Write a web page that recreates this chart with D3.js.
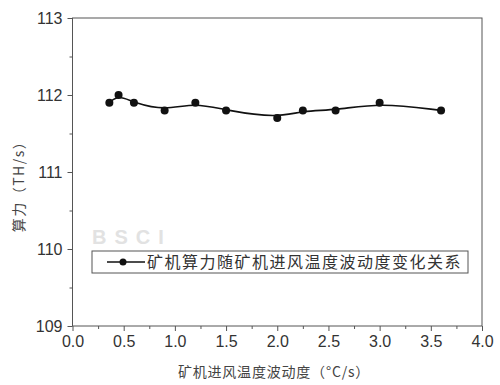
<!DOCTYPE html>
<html>
<head>
<meta charset="utf-8">
<script src="https://cdn.jsdelivr.net/npm/d3@7"></script>
<style>
  body { margin: 0; background: #fff; }
  text { font-family: "Liberation Sans", Arial, sans-serif; }
  .cjk { font-family: "Noto Sans CJK SC", sans-serif; }
</style>
</head>
<body>
<svg id="chart" width="500" height="385"></svg>
<script>
// data
const fluctuation = [0.36, 0.45, 0.6, 0.9, 1.2, 1.5, 2.0, 2.25, 2.57, 3.0, 3.6];
const hashrate = [111.9, 112.0, 111.9, 111.8, 111.9, 111.8, 111.7, 111.8, 111.8, 111.9, 111.8];
const xTicks = [0, 0.5, 1, 1.5, 2, 2.5, 3, 3.5, 4];
const yTicks = [109, 110, 111, 112, 113];
const seriesName = '矿机算力随矿机进风温度波动度变化关系';

const svg = d3.select('#chart');
const margin = {left: 72.5, right: 18, top: 18, bottom: 59};
const width = 500 - margin.left - margin.right;
const height = 385 - margin.top - margin.bottom;
const axisColor = '#555';

const x = d3.scaleLinear().domain([0, 4]).range([margin.left, margin.left + width]);
const y = d3.scaleLinear().domain([109, 113]).range([margin.top + height, margin.top]);

// frame
svg.append('rect')
    .attr('x', x(0)).attr('y', y(113))
    .attr('width', x(4) - x(0)).attr('height', y(109) - y(113))
    .attr('fill', 'none').attr('stroke', axisColor).attr('stroke-width', 1);

// minor ticks
svg.append('g')
    .attr('transform', `translate(0,${y(109)})`)
    .call(d3.axisBottom(x).tickValues(d3.range(0.25, 4, 0.5)).tickSize(3).tickFormat(''))
    .call(g => g.select('.domain').remove())
    .call(g => g.selectAll('line').attr('stroke', axisColor));
svg.append('g')
    .attr('transform', `translate(${x(0)},0)`)
    .call(d3.axisLeft(y).tickValues(d3.range(109.5, 113, 1)).tickSize(3).tickFormat(''))
    .call(g => g.select('.domain').remove())
    .call(g => g.selectAll('line').attr('stroke', axisColor));

// major ticks
const xAxis = svg.append('g')
    .attr('transform', `translate(0,${y(109)})`)
    .call(d3.axisBottom(x).tickValues(xTicks).tickSize(5).tickPadding(5).tickFormat(d3.format('.1f')));
const yAxis = svg.append('g')
    .attr('transform', `translate(${x(0)},0)`)
    .call(d3.axisLeft(y).tickValues(yTicks).tickSize(5).tickPadding(5).tickFormat(d3.format('d')));
[xAxis, yAxis].forEach(g => {
    g.select('.domain').remove();
    g.selectAll('line').attr('stroke', axisColor);
    g.selectAll('text').attr('fill', '#333').style('font-size', '16px')
        .style('font-family', '"Liberation Sans", Arial, sans-serif');
});

// watermark
svg.append('text')
    .attr('x', 92).attr('y', 244)
    .attr('fill', '#e2e2e2')
    .style('font-size', '20px')
    .style('font-weight', 'bold')
    .style('letter-spacing', '8px')
    .text('BSCI');

// curve
svg.append('path')
    .datum(fluctuation.map((v, i) => [v, hashrate[i]]))
    .attr('fill', 'none')
    .attr('stroke', '#111')
    .attr('stroke-width', 1.6)
    .attr('d', d3.line().x(d => x(d[0])).y(d => y(d[1])).curve(d3.curveBasis));

svg.append('g').selectAll('circle')
    .data(fluctuation)
    .enter().append('circle')
    .attr('cx', d => x(d))
    .attr('cy', (d, i) => y(hashrate[i]))
    .attr('r', 4)
    .attr('fill', '#111');

// legend
const legend = svg.append('g').attr('transform', 'translate(92,251)');
legend.append('rect')
    .attr('width', 376).attr('height', 22)
    .attr('fill', '#fff').attr('stroke', axisColor);
legend.append('line')
    .attr('x1', 15).attr('x2', 53).attr('y1', 11).attr('y2', 11)
    .attr('stroke', '#111').attr('stroke-width', 1.6);
legend.append('circle').attr('cx', 31).attr('cy', 11).attr('r', 3.5).attr('fill', '#111');
legend.append('text')
    .attr('class', 'cjk')
    .attr('x', 55).attr('y', 17)
    .attr('fill', '#333')
    .style('font-size', '16px')
    .style('letter-spacing', '1.5px')
    .text(seriesName);

// axis titles
svg.append('text')
    .attr('class', 'cjk')
    .attr('x', 274).attr('y', 377)
    .attr('text-anchor', 'middle')
    .attr('fill', '#444')
    .style('font-size', '14px')
    .style('letter-spacing', '0.8px')
    .text('矿机进风温度波动度（°C/s）');

svg.append('text')
    .attr('class', 'cjk')
    .attr('transform', 'translate(24,183) rotate(-90)')
    .attr('text-anchor', 'middle')
    .attr('fill', '#444')
    .style('font-size', '14px')
    .style('letter-spacing', '1.5px')
    .text('算力（TH/s）');
</script>
</body>
</html>
